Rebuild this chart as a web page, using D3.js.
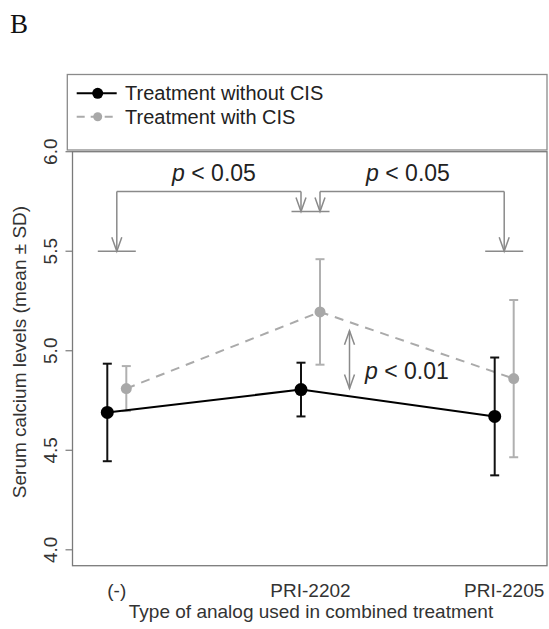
<!DOCTYPE html>
<html>
<head>
<meta charset="utf-8">
<script src="https://cdn.jsdelivr.net/npm/d3@7"></script>
<style>
  html, body { margin: 0; padding: 0; background: #fff; }
  svg { display: block; }
  text { font-family: "Liberation Sans", Arial, Helvetica, sans-serif; fill: #222; }
</style>
</head>
<body>
<script>
// ---- data ----
const categories = ["(-)", "PRI-2202", "PRI-2205"];
const withoutCisMean = [4.69, 4.805, 4.67];
const withoutCisSD   = [0.245, 0.135, 0.296];
const withCisMean    = [4.81, 5.195, 4.86];
const withCisSD      = [0.113, 0.265, 0.395];
const seriesNames = ["Treatment without CIS", "Treatment with CIS"];
const yTicks = [4.0, 4.5, 5.0, 5.5, 6.0];
const yTickLabels = ["4.0", "4.5", "5.0", "5.5", "6.0"];
// significance annotations (data units)
const barLevels = [5.5, 5.7, 5.5];         // short horizontal reference bars per group
const bracketLevel = 5.8;                  // bracket top
const pairedArrow = [4.81, 5.10];          // double-headed arrow span at PRI-2202
const pLabels = ["p < 0.05", "p < 0.05", "p < 0.01"];

// ---- layout ----
const W = 549, H = 629;
const plot = { left: 72.5, right: 547, top: 151.7, bottom: 565.7 };

const svg = d3.select("body").append("svg").attr("width", W).attr("height", H);

const x = d3.scalePoint().domain(categories).range([116.8, 504.2]);
const y = d3.scaleLinear().domain([4, 6]).range([549.8, 151.7]);
const dodge = 9.5;

// panel letter
svg.append("text").attr("x", 10).attr("y", 32.5)
  .style("font-family", "'Liberation Serif', 'Times New Roman', serif")
  .style("font-size", "27px").style("fill", "#111").text("B");

// legend box
svg.append("rect").attr("x", 67.3).attr("y", 74.5).attr("width", 547 - 67.3).attr("height", 75.5)
  .attr("fill", "none").attr("stroke", "#8a8a8a").attr("stroke-width", 1.3);

// plot frame
svg.append("rect").attr("x", plot.left).attr("y", plot.top)
  .attr("width", plot.right - plot.left).attr("height", plot.bottom - plot.top)
  .attr("fill", "none").attr("stroke", "#7a7a7a").attr("stroke-width", 1.3);

// y axis ticks & labels
const yAxis = svg.append("g");
yTicks.forEach((t, i) => {
  yAxis.append("line").attr("x1", plot.left - 7).attr("x2", plot.left)
    .attr("y1", y(t)).attr("y2", y(t)).attr("stroke", "#7a7a7a").attr("stroke-width", 1.2);
  yAxis.append("text").attr("transform", `translate(57,${y(t)}) rotate(-90)`)
    .attr("text-anchor", "middle").style("font-size", "19px").style("fill", "#333")
    .text(yTickLabels[i]);
});

// x labels
categories.forEach(c => {
  svg.append("text").attr("x", x(c)).attr("y", 597).attr("text-anchor", "middle")
    .style("font-size", "19px").style("fill", "#333").text(c);
});

// axis titles
svg.append("text").attr("x", 311).attr("y", 618).attr("text-anchor", "middle")
  .style("font-size", "19px").style("fill", "#333").text("Type of analog used in combined treatment");
svg.append("text").attr("transform", "translate(26,352) rotate(-90)")
  .attr("text-anchor", "middle").style("font-size", "19px").style("fill", "#333")
  .text("Serum calcium levels (mean \u00B1 SD)");

// ---- annotations ----
const annColor = "#8a8a8a";
const ann = svg.append("g").attr("stroke", annColor).attr("stroke-width", 1.5).attr("fill", "none");
function vArrow(px, yFrom, yTo) {
  ann.append("line").attr("x1", px).attr("x2", px).attr("y1", yFrom).attr("y2", yTo);
  const dir = yTo > yFrom ? 1 : -1;
  ann.append("path").attr("d",
    `M${px - 5},${yTo - dir * 14} L${px},${yTo} L${px + 5},${yTo - dir * 14}`);
}
// short bars
categories.forEach((c, i) => {
  ann.append("line").attr("x1", x(c) - 19).attr("x2", x(c) + 19)
    .attr("y1", y(barLevels[i])).attr("y2", y(barLevels[i]));
});
// left bracket
ann.append("line").attr("x1", x(categories[0])).attr("x2", x(categories[1]) - dodge)
  .attr("y1", y(bracketLevel)).attr("y2", y(bracketLevel));
vArrow(x(categories[0]), y(bracketLevel), y(barLevels[0]));
vArrow(x(categories[1]) - dodge, y(bracketLevel), y(barLevels[1]));
// right bracket
ann.append("line").attr("x1", x(categories[1]) + dodge).attr("x2", x(categories[2]))
  .attr("y1", y(bracketLevel)).attr("y2", y(bracketLevel));
vArrow(x(categories[1]) + dodge, y(bracketLevel), y(barLevels[1]));
vArrow(x(categories[2]), y(bracketLevel), y(barLevels[2]));
// double arrow
const daX = x(categories[1]) + 39;
ann.append("line").attr("x1", daX).attr("x2", daX).attr("y1", y(pairedArrow[0])).attr("y2", y(pairedArrow[1]));
ann.append("path").attr("d", `M${daX - 5},${y(pairedArrow[1]) + 14} L${daX},${y(pairedArrow[1])} L${daX + 5},${y(pairedArrow[1]) + 14}`);
ann.append("path").attr("d", `M${daX - 5},${y(pairedArrow[0]) - 14} L${daX},${y(pairedArrow[0])} L${daX + 5},${y(pairedArrow[0]) - 14}`);

function pText(px, py, anchor, label) {
  const parts = label.split(" ");
  const t = svg.append("text").attr("x", px).attr("y", py).attr("text-anchor", anchor)
    .style("font-size", "23px").style("fill", "#222");
  t.append("tspan").style("font-style", "italic").text(parts[0]);
  t.append("tspan").text(" " + parts.slice(1).join(" "));
}
pText(214, 181, "middle", pLabels[0]);
pText(408, 181, "middle", pLabels[1]);
pText(365, 378.5, "start", pLabels[2]);

// ---- series ----
const series = [
  { mean: withoutCisMean, sd: withoutCisSD, off: -dodge, color: "#000", dotColor: "#000", r: 6.5, dash: null, ebColor: "#111", w: 2 },
  { mean: withCisMean, sd: withCisSD, off: dodge, color: "#aaa", dotColor: "#a8a8a8", r: 5.5, dash: "9,7", ebColor: "#b0b0b0", w: 2 }
];
[series[1], series[0]].forEach(s => {
  const g = svg.append("g");
  const pts = categories.map((c, i) => [x(c) + s.off, y(s.mean[i])]);
  g.append("path").attr("d", d3.line()(pts)).attr("fill", "none")
    .attr("stroke", s.color).attr("stroke-width", s.w)
    .attr("stroke-dasharray", s.dash);
  categories.forEach((c, i) => {
    const cx = x(c) + s.off;
    const yt = y(s.mean[i] + s.sd[i]), yb = y(s.mean[i] - s.sd[i]);
    g.append("line").attr("x1", cx).attr("x2", cx).attr("y1", yt).attr("y2", yb)
      .attr("stroke", s.ebColor).attr("stroke-width", s.w);
    [yt, yb].forEach(yy => g.append("line").attr("x1", cx - 4.5).attr("x2", cx + 4.5)
      .attr("y1", yy).attr("y2", yy).attr("stroke", s.ebColor).attr("stroke-width", s.w));
    g.append("circle").attr("cx", cx).attr("cy", y(s.mean[i])).attr("r", s.r).attr("fill", s.dotColor);
  });
});

// ---- legend ----
const legRows = [
  { y: 93.3, s: series[0] },
  { y: 116.7, s: series[1] }
];
legRows.forEach((row, i) => {
  svg.append("line").attr("x1", 76.7).attr("x2", 116.7).attr("y1", row.y).attr("y2", row.y)
    .attr("stroke", row.s.color).attr("stroke-width", 2)
    .attr("stroke-dasharray", row.s.dash ? "8,6" : null);
  svg.append("circle").attr("cx", 97.7).attr("cy", row.y).attr("r", row.s.r - 1).attr("fill", row.s.dotColor);
  svg.append("text").attr("x", 125).attr("y", row.y + 7).style("font-size", "20px").style("fill", "#222")
    .text(seriesNames[i]);
});
</script>
</body>
</html>
